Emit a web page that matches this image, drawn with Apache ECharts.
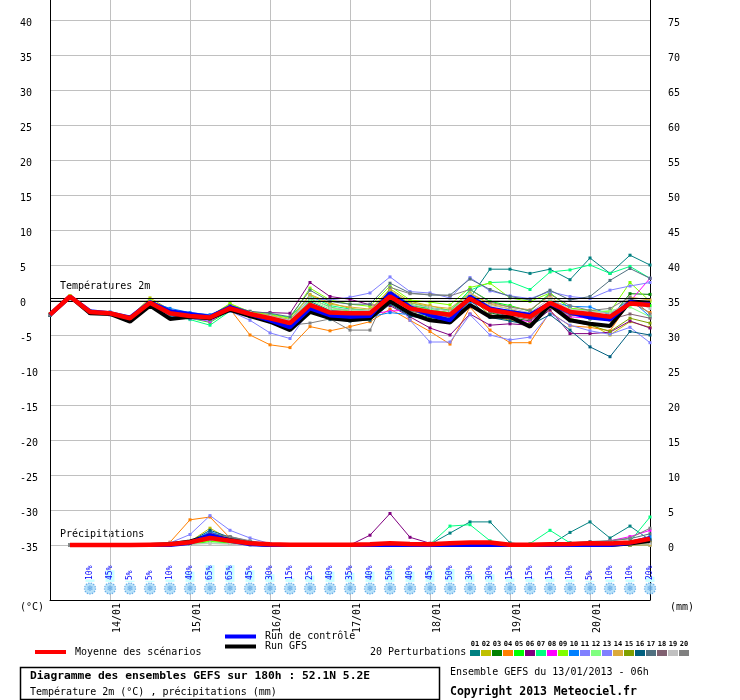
<!DOCTYPE html>
<html>
<head>
<meta charset="utf-8">
<script src="https://cdn.jsdelivr.net/npm/echarts@6/dist/echarts.min.js"></script>
<style>
html,body{margin:0;padding:0;background:#fff;}
#chart{width:740px;height:700px;}
</style>
</head>
<body>
<div id="chart"></div>
<script>
// ---- DATA ----
const hours = [0,6,12,18,24,30,36,42,48,54,60,66,72,78,84,90,96,102,108,114,120,126,132,138,144,150,156,162,168,174,180];
const precipHours = [6,12,18,24,30,36,42,48,54,60,66,72,78,84,90,96,102,108,114,120,126,132,138,144,150,156,162,168,174,180];
const snowHours = [12,18,24,30,36,42,48,54,60,66,72,78,84,90,96,102,108,114,120,126,132,138,144,150,156,162,168,174,180];
const snowProb = [10,45,5,5,10,40,65,65,45,30,15,25,40,35,40,50,40,45,50,30,30,15,15,15,10,5,10,10,20];
const dayTicks = [18,42,66,90,114,138,162];
const dayLabels = ['14/01','15/01','16/01','17/01','18/01','19/01','20/01'];
const tempTicks = [-35,-30,-25,-20,-15,-10,-5,0,5,10,15,20,25,30,35,40];
const rightTicks = [0,5,10,15,20,25,30,35,40,45,50,55,60,65,70,75];
const memberNames = ['01','02','03','04','05','06','07','08','09','10','11','12','13','14','15','16','17','18','19','20'];
const memberColors = ['#008080','#c0c000','#008000','#ff8000','#00ff00','#800080','#00ff80','#ff00ff','#80ff00','#0080ff','#8080ff','#80ff80','#8080ff','#dcaa3c','#80a000','#005f7f','#507080','#806070','#c0c0c0','#808080'];

const tempMean    = [-2.1,0.5,-1.7,-1.9,-2.6,-0.4,-1.9,-2.3,-2.5,-1.2,-2.0,-2.6,-3.3,-0.7,-1.8,-1.9,-1.9,0.5,-1.2,-1.7,-2.1,0.2,-1.4,-1.9,-2.4,-0.4,-1.7,-2.0,-2.4,-0.5,-0.7];
const tempControl = [-2.1,0.5,-1.6,-1.9,-2.5,-0.3,-1.6,-2.0,-2.4,-1.0,-2.0,-2.9,-3.9,-1.2,-2.2,-2.4,-2.3,1.0,-1.0,-2.2,-2.9,0.5,-1.2,-1.7,-2.1,-0.5,-1.8,-2.5,-2.8,-0.3,-0.6];
const tempGfs     = [-2.1,0.5,-1.9,-2.0,-3.1,-0.8,-2.7,-2.4,-2.6,-1.4,-2.3,-3.1,-4.3,-1.7,-2.6,-2.9,-2.6,-0.2,-1.9,-2.9,-3.2,-0.7,-2.4,-2.4,-3.8,-0.7,-2.9,-3.4,-3.7,-0.2,-0.4];
const tempPerturbations = [
  [-2.1,0.5,-1.8,-1.9,-2.6,-0.5,-1.6,-2.1,-2.6,-1.0,-1.8,-2.4,-3.0,-0.2,-1.5,-1.3,-1.6,1.3,-0.8,-1.2,-1.5,0.3,4.4,4.4,3.8,4.4,2.9,6.0,3.8,6.4,5.0],
  [-2.0,0.6,-1.5,-1.8,-2.4,0.3,-1.4,-1.9,-2.3,-0.6,-1.7,-2.2,-3.0,0.8,-0.4,-1.2,-1.5,1.6,-0.2,-0.8,-1.5,0.9,-0.6,-1.3,-2.2,-0.2,-2.6,-3.4,-5.0,-3.1,-3.9],
  [-2.2,0.4,-1.8,-2.0,-2.7,-0.6,-2.0,-2.4,-2.7,-1.3,-2.3,-2.9,-3.7,-1.0,-2.5,-2.8,-2.6,0.2,-1.8,-2.5,-2.9,0.6,-1.8,-2.5,-3.0,-0.6,-1.7,-2.7,-2.6,0.9,0.8],
  [-2.2,0.5,-1.6,-1.8,-2.5,-0.3,-1.9,-2.3,-2.4,-1.3,-5.0,-6.4,-6.8,-3.8,-4.4,-3.8,-3.1,-1.3,-2.9,-4.5,-6.3,-1.0,-4.3,-6.1,-6.1,-1.7,-3.7,-3.9,-4.4,-0.3,-1.8],
  [-2.1,0.5,-1.7,-2.0,-2.7,-0.5,-2.0,-2.6,-3.2,-1.5,-2.3,-2.3,-2.8,0.2,-1.0,-1.6,-1.9,1.2,-0.6,-1.4,-1.8,1.5,-0.2,-0.8,-1.6,1.0,-1.2,-1.5,-1.9,-0.2,-0.8],
  [-2.1,0.4,-1.8,-2.0,-2.6,-0.5,-1.8,-2.2,-2.4,-1.1,-1.9,-1.8,-1.9,2.5,0.5,0.1,-0.7,-0.8,-2.4,-4.0,-5.0,-2.0,-3.6,-3.4,-3.6,-1.4,-4.8,-4.8,-4.6,-3.0,-4.0],
  [-2.1,0.5,-1.7,-1.9,-2.8,-0.6,-2.1,-2.8,-3.6,-1.6,-2.2,-2.0,-2.5,0.6,-0.8,-1.3,-1.5,1.0,-0.4,-1.1,-1.5,1.4,2.5,2.6,1.5,4.0,4.3,5.0,3.8,4.8,3.1],
  [-2.1,0.5,-1.7,-2.0,-2.6,-0.4,-2.0,-2.5,-3.1,-1.3,-2.1,-2.7,-3.5,-1.2,-1.6,-2.2,-2.0,-1.6,-1.4,-2.0,-2.3,-0.9,-2.2,-2.7,-3.1,-0.9,-2.4,-2.6,-2.1,-0.2,3.1],
  [-2.0,0.6,-1.6,-1.8,-2.5,0.1,-1.7,-2.0,-2.3,-0.5,-1.7,-2.1,-2.6,1.7,0.0,-0.6,-0.9,2.0,0.0,-0.3,-0.7,1.8,2.4,0.3,-0.2,1.0,-1.2,-1.5,-1.7,2.5,-0.2],
  [-2.1,0.5,-1.6,-1.7,-2.4,-0.2,-1.2,-1.8,-2.1,-0.9,-1.8,-2.6,-3.2,-1.2,-2.0,-2.5,-2.4,-1.8,-2.1,-2.0,-2.3,-0.3,-1.2,-1.5,-2.0,-0.2,-0.9,-1.0,-2.1,0.2,-2.4],
  [-2.1,0.5,-1.7,-1.9,-2.5,-0.6,-1.8,-2.2,-2.6,-1.4,-2.1,-2.3,-2.9,0.2,0.0,0.4,1.0,3.3,1.2,1.0,0.3,3.2,1.3,0.6,0.2,1.2,0.5,0.2,1.4,2.0,2.5],
  [-2.1,0.5,-1.7,-1.9,-2.6,-0.4,-2.0,-2.4,-2.7,-1.1,-1.9,-2.5,-3.1,0.0,-1.3,-1.5,-1.6,0.7,-0.9,-1.4,-1.9,0.9,-1.0,-1.7,-2.3,-0.1,-1.5,-1.8,-1.5,-1.0,-2.4],
  [-2.2,0.4,-1.9,-2.1,-2.8,-0.9,-2.3,-2.7,-2.9,-1.6,-2.9,-4.7,-5.5,-1.4,-2.6,-2.3,-2.0,0.8,-2.9,-6.0,-6.0,-2.1,-5.0,-5.7,-5.3,-1.9,-3.6,-4.4,-4.9,-3.9,-6.1],
  [-2.1,0.5,-1.6,-1.8,-2.4,-0.3,-1.7,-2.1,-2.4,-1.0,-1.8,-2.2,-2.8,0.7,-0.6,-1.0,-1.3,1.4,-0.4,-0.9,-1.2,1.0,-0.5,-1.0,-1.4,0.6,-1.8,-2.6,-2.9,0.4,0.0],
  [-2.1,0.5,-1.8,-2.0,-2.7,-0.6,-2.1,-2.5,-2.8,-1.3,-2.2,-2.8,-3.5,-0.4,-1.9,-2.2,-2.3,0.4,-1.5,-2.3,-2.6,0.5,-2.2,-2.9,-3.4,-1.0,-3.0,-3.6,-4.5,-2.6,-3.3],
  [-2.2,0.4,-1.9,-2.1,-2.8,-0.7,-2.2,-2.6,-2.7,-1.5,-2.4,-3.1,-3.9,-1.6,-2.8,-3.0,-2.9,-0.6,-2.3,-2.8,-3.1,0.0,-2.5,-3.0,-3.6,-2.1,-4.3,-6.7,-8.1,-4.5,-5.0],
  [-2.1,0.5,-1.7,-1.9,-2.5,-0.3,-1.6,-2.0,-2.3,-0.8,-1.6,-1.9,-2.4,1.4,-0.2,-0.6,-0.6,2.4,1.0,0.7,0.7,3.0,1.5,0.5,0.0,1.4,0.0,0.5,2.8,4.5,3.1],
  [-2.1,0.5,-1.7,-1.9,-2.6,-0.5,-1.9,-2.3,-2.6,-1.2,-2.1,-2.7,-3.4,-0.9,-2.1,-2.4,-2.3,0.0,-1.6,-2.1,-2.4,0.4,-1.7,-2.3,-2.8,-0.8,-2.2,-2.3,-2.8,-2.0,-2.6],
  [-2.0,0.5,-1.6,-1.8,-2.4,-0.2,-1.7,-2.1,-2.3,-1.0,-1.8,-2.3,-2.9,0.3,-1.1,-1.4,-1.5,1.0,-0.7,-1.1,-1.6,0.8,-0.8,-1.2,-1.8,0.2,-1.3,-1.6,-1.9,-0.1,-1.2],
  [-2.1,0.5,-1.8,-2.0,-2.7,-0.6,-2.0,-2.4,-2.7,-1.3,-2.2,-2.9,-3.6,-3.3,-2.7,-4.3,-4.3,1.8,0.9,0.8,0.6,1.5,-0.3,-1.0,-1.5,0.8,-0.8,-1.5,-1.2,0.4,-2.0]
];

const precipMean    = [0,0,0,0,0.05,0.1,0.4,1.0,0.6,0.25,0.1,0.05,0.05,0.05,0.05,0.1,0.25,0.15,0.1,0.25,0.35,0.35,0.05,0.05,0.1,0.15,0.25,0.2,0.35,0.9];
const precipControl = [0,0,0,0,0,0,0.3,1.4,0.6,0.1,0,0,0,0,0,0,0,0,0,0,0,0,0,0,0,0,0,0,0.3,1.0];
const precipGfs     = [0,0,0,0,0,0.1,0.5,1.3,0.7,0.2,0,0,0,0,0,0,0,0,0,0,0,0,0,0,0,0,0,0,0.2,0.6];
const precipPerturbations = [
  [0,0,0,0,0,0.1,0.3,1.6,0.8,0.2,0,0,0,0,0,0,0,0,0.1,1.7,3.3,3.3,0.3,0,0,1.8,3.3,1.0,2.7,0.7],
  [0,0,0,0,0,0.1,0.5,2.4,0.8,0.3,0,0,0,0,0,0,0,0,0,0,0.1,0,0,0,0,0,0,0,0.2,0.4],
  [0,0,0,0,0,0,0.2,1.2,0.9,0.4,0.1,0,0,0,0,0,0,0,0,0,0,0,0,0,0,0,0.1,0,0,0.3],
  [0,0,0,0,0,0.4,3.6,4.0,1.0,0.1,0,0,0,0,0,0,0,0,0,0,0,0,0,0,0,0,0,0,0.1,0.6],
  [0,0,0,0,0,0,0.1,0.5,0.3,0.1,0,0,0,0,0,0,0.1,0,0,0,0,0,0,0,0,0,0,0,0,0.2],
  [0,0,0,0,0,0.1,0.4,1.8,1.0,0.3,0,0,0,0,0,1.4,4.5,1.1,0.25,0.3,0.2,0,0,0,0,0,0,0,0,0],
  [0,0,0,0,0,0,0.2,0.9,0.6,0.2,0,0,0,0,0,0,0,0,0.1,2.7,2.9,0.6,0.1,0.2,2.1,0.3,0.1,0.1,0.5,4.0],
  [0,0,0,0,0,0,0.3,1.4,0.7,0.2,0,0,0,0,0,0,0,0,0,0,0,0,0,0,0,0,0.1,0.6,1.2,2.1],
  [0,0,0,0,0,0,0.2,0.6,0.4,0.1,0,0,0,0,0,0,0,0,0,0,0.1,0,0,0,0,0,0,0,0,0.3],
  [0,0,0,0,0,0.1,0.4,1.9,0.9,0.3,0.1,0,0,0,0,0,0,0,0,0,0,0,0,0,0,0,0,0,0.3,1.2],
  [0,0,0,0,0,0.3,1.5,4.2,2.1,1.0,0.2,0,0,0,0,0,0,0,0,0,0,0,0,0,0,0,0,0,0,0],
  [0,0,0,0,0,0,0.1,0.3,0.2,0,0,0,0,0,0,0,0,0,0,0,0,0,0,0,0,0,0,0,0,0],
  [0,0,0,0,0,0,0.2,0.8,0.4,0.1,0,0,0,0,0,0,0,0,0,0,0,0,0,0,0,0,0,0,0,0.5],
  [0,0,0,0,0,0,0.3,1.3,0.8,0.2,0,0,0,0,0,0,0,0,0,0,0,0,0,0,0,0,0,0,0,0],
  [0,0,0,0,0,0,0.2,1.0,0.6,0.2,0,0,0,0,0,0,0,0,0,0,0,0,0,0,0,0,0,0,0,0.4],
  [0,0,0,0,0,0.1,0.5,2.1,1.1,0.4,0,0,0,0,0,0,0,0,0,0,0,0,0,0,0,0,0,0,0.2,0.8],
  [0,0,0,0,0,0,0.4,1.6,1.2,0.5,0.1,0,0,0,0,0,0,0,0,0,0,0,0,0,0,0.3,0.5,0.6,0.9,1.6],
  [0,0,0,0,0,0,0.3,1.5,1.0,0.4,0,0,0,0,0,0,0,0,0,0,0,0,0,0,0,0,0,0.1,0.2,0.3],
  [0,0,0,0,0,0,0.1,0.2,0.1,0,0,0,0,0,0,0,0,0,0,0,0,0,0,0,0,0,0,0,0.1,0.2],
  [0,0,0,0,0,0,0.3,1.2,1.2,0.6,0.1,0,0,0,0,0,0,0,0,0,0,0,0,0,0,0,0.4,0.6,1.0,2.4]
];

// ---- LAYOUT CONSTANTS ----
const MONO = '"DejaVu Sans Mono", "Liberation Mono", monospace';
const tempRange = 300 / 7;         // half range of the temperature axis (7 px per degree)
const rightOffset = 35;            // right axis = left axis + 35
const probMin = -18 / 0.26, probMax = 582 / 0.26; // hidden axis for snow probability bars
const iconLevel = -25;             // snow icon row on the hidden axis
const labelShiftHours = 2.2;       // day labels sit slightly right of midnight lines

const chart = echarts.init(document.getElementById('chart'), null, {renderer: 'canvas'});

const series = [];
tempPerturbations.forEach((arr, k) => {
  series.push({
    type: 'line', name: 'T' + memberNames[k], yAxisIndex: 0, silent: true,
    data: hours.map((h, i) => [h, arr[i]]),
    symbol: 'rect', symbolSize: 3, showSymbol: true,
    lineStyle: {width: 1, color: memberColors[k]},
    itemStyle: {color: memberColors[k]}, z: 2
  });
});
precipPerturbations.forEach((arr, k) => {
  series.push({
    type: 'line', name: 'P' + memberNames[k], yAxisIndex: 1, silent: true,
    data: precipHours.map((h, i) => [h, arr[i]]),
    symbol: 'rect', symbolSize: 3, showSymbol: true,
    lineStyle: {width: 1, color: memberColors[k]},
    itemStyle: {color: memberColors[k]}, z: 2
  });
});
function thick(name, data, xs, axis, color, width, z) {
  return {
    type: 'line', name, yAxisIndex: axis, silent: true,
    data: xs.map((h, i) => [h, data[i]]),
    showSymbol: false, symbol: 'none',
    lineStyle: {width, color}, itemStyle: {color}, z
  };
}
series.push(thick('GFS T', tempGfs, hours, 0, '#000000', 4, 3));
series.push(thick('Ctrl T', tempControl, hours, 0, '#0000ff', 4, 4));
const meanT = thick('Mean T', tempMean, hours, 0, '#ff0000', 4.5, 5);
meanT.markLine = {
  silent: true, symbol: 'none', animation: false,
  label: {show: false},
  lineStyle: {color: '#000', width: 1, type: 'solid'},
  data: [{yAxis: 0.2}, {yAxis: -0.2}]
};
series.push(meanT);
series.push(thick('GFS P', precipGfs, precipHours, 1, '#000000', 4, 3));
series.push(thick('Ctrl P', precipControl, precipHours, 1, '#0000ff', 4, 4));
series.push(thick('Mean P', precipMean, precipHours, 1, '#ff0000', 4.5, 5));

series.push({
  type: 'bar', name: 'snow', yAxisIndex: 2, silent: true,
  data: snowHours.map((h, i) => [h, snowProb[i]]),
  barWidth: 9,
  itemStyle: {color: '#ccffff'},
  label: {
    show: true, position: 'insideBottom', distance: 2, rotate: 90,
    align: 'left', verticalAlign: 'middle',
    formatter: p => p.value[1] + '%',
    color: '#0000ff', fontSize: 8, fontFamily: MONO
  },
  z: 1
});
series.push({
  type: 'scatter', name: 'icons', yAxisIndex: 2, silent: true,
  data: snowHours.map(h => [h, iconLevel]),
  symbol: 'circle', symbolSize: 11,
  itemStyle: {color: '#a6daf6', borderColor: '#4f9fe6', borderWidth: 1.3, borderType: 'dotted'},
  label: {show: true, position: 'inside', formatter: '❄', color: '#3f8fe0', fontSize: 8, fontFamily: 'DejaVu Sans'},
  z: 1
});

const labelStyle = {color: '#000', fontSize: 10, fontFamily: MONO};

const option = {
  animation: false,
  backgroundColor: '#ffffff',
  grid: {left: 50, right: 90, top: 0, bottom: 100, containLabel: false, outerBoundsMode: 'none'},
  xAxis: {
    type: 'value', min: 0, max: 180,
    axisLine: {show: true, onZero: false, lineStyle: {color: '#000', width: 1}},
    axisTick: {show: false, customValues: dayTicks},
    splitLine: {show: true, lineStyle: {color: '#c0c0c0', width: 1}},
    axisLabel: Object.assign({
      customValues: dayTicks.map(t => t + labelShiftHours),
      rotate: 90, margin: 3,
      formatter: v => {
        let best = 0;
        dayTicks.forEach((t, i) => { if (Math.abs(t + labelShiftHours - v) < Math.abs(dayTicks[best] + labelShiftHours - v)) best = i; });
        return dayLabels[best];
      }
    }, labelStyle)
  },
  yAxis: [
    {
      type: 'value', position: 'left', min: -tempRange, max: tempRange,
      axisLine: {show: true, onZero: false, lineStyle: {color: '#000', width: 1}},
      axisTick: {show: false, customValues: tempTicks},
      splitLine: {show: true, lineStyle: {color: '#c0c0c0', width: 1}},
      axisLabel: Object.assign({customValues: tempTicks, align: 'left', margin: 30, verticalAlign: 'top', lineHeight: 6}, labelStyle)
    },
    {
      type: 'value', position: 'right', min: -tempRange + rightOffset, max: tempRange + rightOffset,
      axisLine: {show: true, onZero: false, lineStyle: {color: '#000', width: 1}},
      axisTick: {show: false, customValues: rightTicks},
      splitLine: {show: false},
      axisLabel: Object.assign({customValues: rightTicks, align: 'left', margin: 18, verticalAlign: 'top', lineHeight: 6}, labelStyle)
    },
    {
      type: 'value', show: false, min: probMin, max: probMax,
      splitLine: {show: false}
    }
  ],
  series,
  graphic: [
    {type: 'text', left: 60, top: 281, style: {text: 'Températures 2m', font: '10px ' + MONO, fill: '#000'}},
    {type: 'text', left: 60, top: 529, style: {text: 'Précipitations', font: '10px ' + MONO, fill: '#000'}},
    {type: 'text', left: 20, top: 602, style: {text: '(°C)', font: '10px ' + MONO, fill: '#000'}},
    {type: 'text', left: 670, top: 602, style: {text: '(mm)', font: '10px ' + MONO, fill: '#000'}},
    {type: 'rect', shape: {x: 35, y: 650, width: 31, height: 4}, style: {fill: '#ff0000'}},
    {type: 'text', left: 75, top: 647, style: {text: 'Moyenne des scénarios', font: '10px ' + MONO, fill: '#000'}},
    {type: 'rect', shape: {x: 225, y: 634.5, width: 31, height: 4}, style: {fill: '#0000ff'}},
    {type: 'text', left: 265, top: 631.5, style: {text: 'Run de contrôle', font: '10px ' + MONO, fill: '#000'}},
    {type: 'rect', shape: {x: 225, y: 644.5, width: 31, height: 4}, style: {fill: '#000000'}},
    {type: 'text', left: 265, top: 641.5, style: {text: 'Run GFS', font: '10px ' + MONO, fill: '#000'}},
    {type: 'text', left: 370, top: 647, style: {text: '20 Perturbations', font: '10px ' + MONO, fill: '#000'}},
    ...memberNames.map((n, k) => ({type: 'rect', shape: {x: 470 + 11 * k, y: 650, width: 10, height: 6}, style: {fill: memberColors[k]}})),
    ...memberNames.map((n, k) => ({type: 'text', x: 475 + 11 * k, y: 644, style: {text: n, font: 'bold 7px ' + MONO, fill: '#000', align: 'center', verticalAlign: 'middle'}})),
    {type: 'rect', shape: {x: 20.5, y: 667.5, width: 419, height: 32}, style: {fill: '#fff', stroke: '#000', lineWidth: 1.5}},
    {type: 'text', left: 30, top: 671, style: {text: 'Diagramme des ensembles GEFS sur 180h : 52.1N 5.2E', font: 'bold 11.3px ' + MONO, fill: '#000'}},
    {type: 'text', left: 30, top: 687, style: {text: 'Température 2m (°C) , précipitations (mm)', font: '10px ' + MONO, fill: '#000'}},
    {type: 'text', left: 450, top: 667, style: {text: 'Ensemble GEFS du 13/01/2013 - 06h', font: '10px ' + MONO, fill: '#000'}},
    {type: 'text', left: 450, top: 686, style: {text: 'Copyright 2013 Meteociel.fr', font: 'bold 11.5px ' + MONO, fill: '#000'}}
  ]
};
chart.setOption(option);
</script>
</body>
</html>
